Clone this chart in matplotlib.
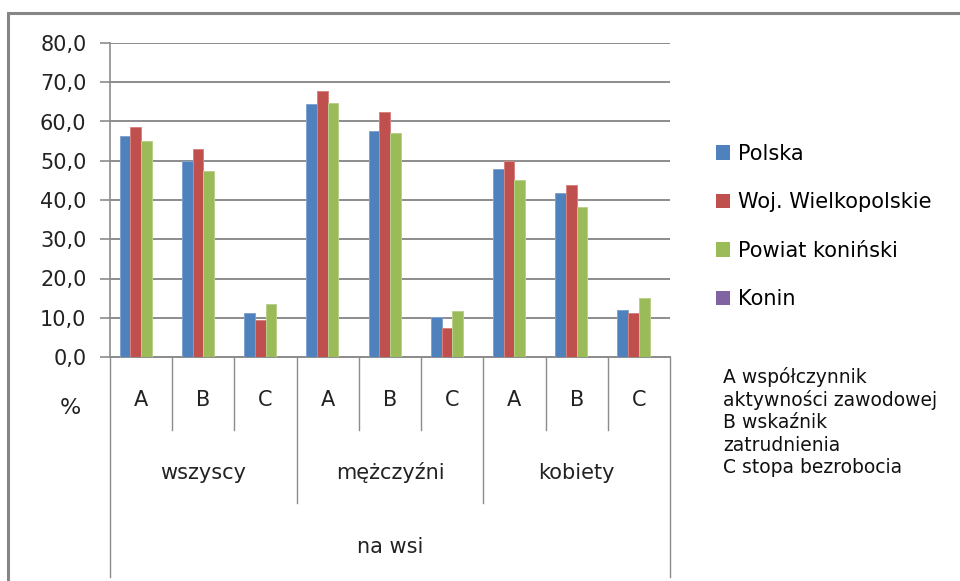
import numpy as np
import matplotlib
matplotlib.use("Agg")
import matplotlib.pyplot as plt
from matplotlib.patches import Rectangle

plt.rcParams['font.family'] = ['DejaVu Sans']

# data
sub_labels = ["A", "B", "C"] * 3
groups = ["wszyscy", "mężczyźni", "kobiety"]
top_label = "na wsi"
series = ["Polska", "Woj. Wielkopolskie", "Powiat koniński", "Konin"]
polska = [56.2, 50.0, 11.1, 64.5, 57.6, 10.1, 47.9, 41.9, 12.1]
wielkopolskie = [58.5, 53.0, 9.3, 67.7, 62.5, 7.5, 49.9, 43.9, 11.1]
powiat = [55.0, 47.5, 13.4, 64.8, 57.0, 11.8, 45.2, 38.3, 15.1]
konin = [0, 0, 0, 0, 0, 0, 0, 0, 0]
yticks = [0, 10, 20, 30, 40, 50, 60, 70, 80]
note = ["A współczynnik", "aktywności zawodowej", "B wskaźnik", "zatrudnienia", "C stopa bezrobocia"]

colors = ["#4F81BD", "#C0504D", "#9BBB59", "#8064A2"]
edges = ["#7FA3D1", "#D68280", "#B8D08A", "#A08ABF"]
grid_c = "#8C8C8C"
txt_c = "#222222"
fs = 15

fig = plt.figure(figsize=(9.6, 5.81), dpi=100)
ax = fig.add_axes([110 / 960, 1 - 357 / 581, 560 / 960, 314 / 581])

x = np.arange(len(sub_labels))
w = 0.172
all_vals = [polska, wielkopolskie, powiat, konin]
for i, (vals, name) in enumerate(zip(all_vals, series)):
    ax.bar(x + (i - 1.5) * w, vals, width=w, color=colors[i], edgecolor=edges[i],
           linewidth=0.7, label=name, zorder=3)

ax.set_xlim(-0.5, len(sub_labels) - 0.5)
ax.set_ylim(0, 80)
ax.set_yticks(yticks)
ax.set_yticklabels([f"{v:.1f}".replace(".", ",") for v in yticks], fontsize=fs, color=txt_c)
ax.yaxis.grid(True, color=grid_c, linewidth=1.4, zorder=0)
ax.tick_params(axis="y", length=7, width=1.2, color=grid_c, pad=10)
ax.set_xticks([])
for s in ["top", "right"]:
    ax.spines[s].set_visible(False)
ax.spines["left"].set_color(grid_c)
ax.spines["left"].set_linewidth(1.2)
ax.spines["bottom"].set_color(grid_c)
ax.spines["bottom"].set_linewidth(1.4)

# multi level category axis
tr = ax.get_xaxis_transform()
for k in range(len(sub_labels) + 1):
    xe = k - 0.5
    if k == 0 or k == len(sub_labels):
        y_end = -0.70
    elif k % 3 == 0:
        y_end = -0.465
    else:
        y_end = -0.232
    ax.plot([xe, xe], [0, y_end], color=grid_c, linewidth=1.0, transform=tr, clip_on=False)
for k, lab in enumerate(sub_labels):
    ax.text(k, -0.137, lab, transform=tr, ha="center", va="center", fontsize=fs, color=txt_c)
for g, lab in enumerate(groups):
    ax.text(3 * g + 1, -0.369, lab, transform=tr, ha="center", va="center", fontsize=fs, color=txt_c)
ax.text((len(sub_labels) - 1) / 2, -0.605, top_label, transform=tr, ha="center", va="center",
        fontsize=fs, color=txt_c)

fig.text(70 / 960, 1 - 408 / 581, "%", ha="center", va="center", fontsize=16, color=txt_c)

# legend
leg = fig.legend(loc="upper left", bbox_to_anchor=(697 / 960, 1 - 125 / 581), frameon=False,
                 fontsize=fs, handlelength=0.7, handleheight=0.7, handletextpad=0.35,
                 labelspacing=1.37)
for h in leg.legend_handles:
    h.set_edgecolor("none")

for i, line in enumerate(note):
    fig.text(723 / 960, 1 - (377 + i * 22.7) / 581, line, ha="left", va="center", fontsize=13.5,
             color="#111111")

# chart frame
fig.patches.append(Rectangle((8 / 960, -0.2), 2, 1.2 - 13 / 581, transform=fig.transFigure,
                             fill=False, edgecolor="#868686", linewidth=2.2))

fig.savefig("out.png", dpi=100)
